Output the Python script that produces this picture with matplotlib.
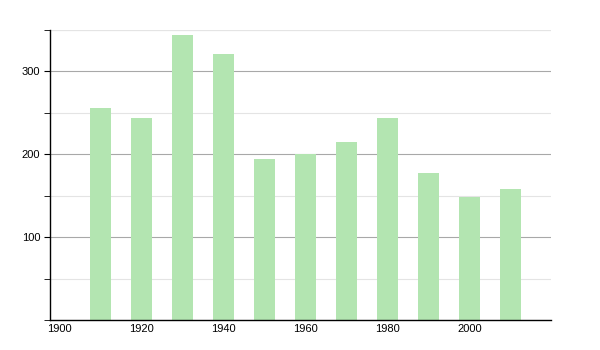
import matplotlib
matplotlib.use("Agg")
import matplotlib.pyplot as plt
from matplotlib.ticker import MultipleLocator

plt.rcParams["font.family"] = ["Liberation Sans", "DejaVu Sans"]

# population by census year
years = [1910, 1920, 1930, 1940, 1950, 1960, 1970, 1980, 1990, 2000, 2010]
values = [256, 244, 344, 321, 194, 200, 215, 244, 178, 148, 158]

fig = plt.figure(figsize=(6, 3.5), dpi=100)
ax = fig.add_axes([50 / 600, 1 - 320 / 350, 501 / 600, 290 / 350])

ax.bar(years, values, width=5.1, color="#b3e5b1", zorder=2)

ax.set_xlim(1897.6, 2019.8)
ax.set_ylim(0, 350)

ax.yaxis.set_major_locator(MultipleLocator(100))
ax.yaxis.set_minor_locator(MultipleLocator(50))
ax.set_yticks([100, 200, 300])
ax.set_xticks([1900, 1920, 1940, 1960, 1980, 2000])

ax.grid(axis="y", which="major", color="#a8a8a8", linewidth=0.8, zorder=1)
ax.grid(axis="y", which="minor", color="#e4e4e4", linewidth=0.8, zorder=1)
ax.axhline(350, color="#e4e4e4", linewidth=0.8, zorder=1)

for s in ["top", "right"]:
    ax.spines[s].set_visible(False)
ax.spines["left"].set_linewidth(1.0)
ax.spines["bottom"].set_linewidth(1.0)

ax.tick_params(axis="y", which="major", length=4, labelsize=8, pad=3)
ax.tick_params(axis="y", which="minor", length=4)
ax.tick_params(axis="x", length=0, labelsize=8, pad=3)

fig.savefig("out.png", dpi=100)
